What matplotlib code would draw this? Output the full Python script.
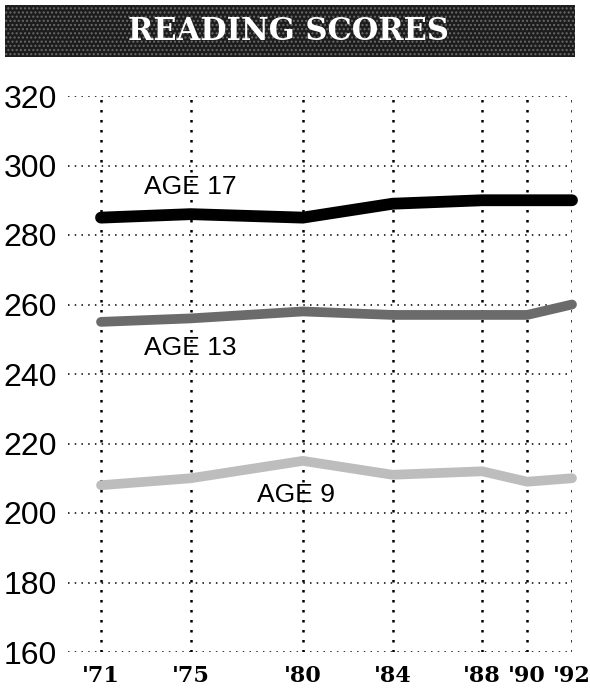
import matplotlib
matplotlib.use("Agg")
import matplotlib.pyplot as plt
from matplotlib.patches import Rectangle

# NAEP reading scores by age group
years = [1971, 1975, 1980, 1984, 1988, 1990, 1992]
year_labels = ["'71", "'75", "'80", "'84", "'88", "'90", "'92"]
age17 = [285, 286, 285, 289, 290, 290, 290]
age13 = [255, 256, 258, 257, 257, 257, 260]
age9 = [208, 210, 215, 211, 212, 209, 210]
y_ticks = [160, 180, 200, 220, 240, 260, 280, 300, 320]

W, H = 590, 690
fig = plt.figure(figsize=(W / 100, H / 100), dpi=100)

# title bar
bar = Rectangle((5 / W, 1 - 57 / H), 570 / W, 52 / H, transform=fig.transFigure,
                facecolor="#1c1c1c", edgecolor="#6a6a6a", hatch="....", linewidth=0)
fig.patches.append(bar)
fig.text(289 / W, 1 - 32 / H, "READING SCORES", color="white", fontsize=22,
         fontweight="heavy", family="DejaVu Serif", ha="center", va="center")

left, right = 68, 572
top, bottom = 96, 652
ax = fig.add_axes([left / W, 1 - bottom / H, (right - left) / W, (bottom - top) / H])
x0 = 1971 - 33 / 22.43
ax.set_xlim(x0, 1992)
ax.set_ylim(160, 320)
for s in ax.spines.values():
    s.set_visible(False)

# dotted grid
for v in y_ticks:
    ax.plot([x0, 1992], [v, v], color="black", lw=1.1, linestyle=(0, (1, 3.4)), zorder=1)
for yr in years:
    ax.plot([yr, yr], [160, 320], color="black", lw=1.8, linestyle=(0, (1, 3)), zorder=1)

ax.plot(years, age17, color="black", lw=8.5, solid_capstyle="round", zorder=3, clip_on=False)
ax.plot(years, age13, color="#6b6b6b", lw=7, solid_capstyle="round", zorder=3, clip_on=False)
ax.plot(years, age9, color="#bdbdbd", lw=7, solid_capstyle="round", zorder=3, clip_on=False)

lab = dict(fontsize=19, family="Liberation Sans", ha="center", va="center")
ax.text(1975, 293.7, "AGE 17", **lab)
ax.text(1975, 247.6, "AGE 13", **lab)
ax.text(1979.7, 205.3, "AGE 9", **lab)

ax.set_yticks(y_ticks)
ax.set_yticklabels([str(v) for v in y_ticks], fontsize=23, family="Liberation Sans")
ax.set_xticks(years)
ax.set_xticklabels(year_labels, fontsize=16, fontweight="bold", family="DejaVu Serif")
ax.tick_params(axis="y", length=0, pad=8)
ax.tick_params(axis="x", length=0, pad=9)

fig.savefig("out.png", dpi=100)
